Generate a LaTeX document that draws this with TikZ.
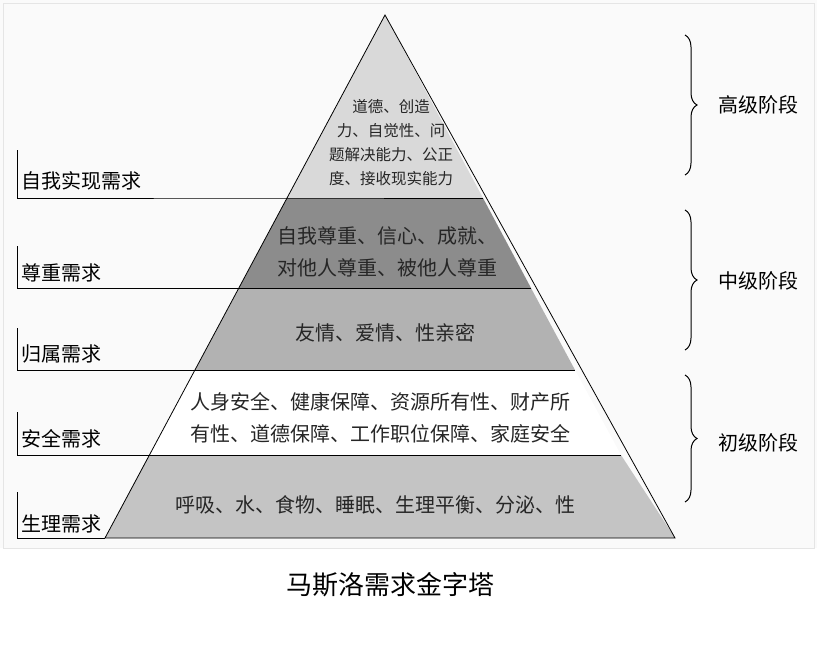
\documentclass[tikz,border=0pt]{standalone}
\usepackage{fontspec}
\newfontfamily\cjk{Noto Sans CJK SC}
\usetikzlibrary{decorations.pathreplacing}
\begin{document}
\begin{tikzpicture}[x=1pt,y=-1pt,font=\cjk,
  layer/.style={draw=black,line width=0.8pt},
  lbl/.style={anchor=south west,font=\cjk\fontsize{20}{24}\selectfont,inner sep=2pt},
  txt/.style={font=\cjk\fontsize{20}{32}\selectfont,align=center,text=black!85},
  lead/.style={draw=black,line width=0.8pt},
  br/.style={decorate,decoration={brace,amplitude=12pt},line width=1pt},
  stage/.style={font=\cjk\fontsize{20}{24}\selectfont}]
\useasboundingbox (0,0) rectangle (817,656);
\fill[white] (0,0) rectangle (817,656);
\fill[black!2] (0,0) rectangle (817,548);
\draw[black!10] (3,3) rectangle (814,548);
% pyramid layers
\coordinate (A) at (385,15);
\fill[black!15] (385,15) -- (287,198) -- (483,198) -- cycle;
\fill[black!45] (287,198) -- (239,288) -- (531,288) -- (483,198) -- cycle;
\fill[black!30] (239,288) -- (195,370) -- (575,370) -- (531,288) -- cycle;
\fill[white] (195,370) -- (149,455) -- (621,455) -- (575,370) -- cycle;
\fill[black!23] (149,455) -- (105,538) -- (675,538) -- (621,455) -- cycle;
\draw[layer] (A) -- (105,538) -- (675,538) -- cycle;
% left leaders
\draw[lead] (17,150) -- (17,198) -- (287,198) -- (483,198);
\draw[lead] (17,246) -- (17,288) -- (531,288);
\draw[lead] (17,328) -- (17,370) -- (575,370);
\draw[lead] (17,412) -- (17,455) -- (621,455);
\draw[lead] (17,492) -- (17,538) -- (105,538);
\node[lbl] (l1) at (19,192) {自我实现需求};
\node[lbl] (l2) at (19,284) {尊重需求};
\node[lbl] (l3) at (19,365) {归属需求};
\node[lbl] (l4) at (19,450) {安全需求};
\node[lbl] (l5) at (19,535) {生理需求};
% inner texts
\node[txt,font=\cjk\fontsize{15.5}{24}\selectfont] (t1) at (391,143) {道德、创造\\力、自觉性、问\\题解决能力、公正\\度、接收现实能力};
\node[txt] (t2) at (387,252) {自我尊重、信心、成就、\\对他人尊重、被他人尊重};
\node[txt] (t3) at (385,333) {友情、爱情、性亲密};
\node[txt] (t4) at (380,418) {人身安全、健康保障、资源所有性、财产所\\有性、道德保障、工作职位保障、家庭安全};
\node[txt] (t5) at (375,505) {呼吸、水、食物、睡眠、生理平衡、分泌、性};
% braces
\draw[br] (685,35) -- (685,175);
\draw[br] (685,210) -- (685,350);
\draw[br] (685,375) -- (685,502);
\node[stage] (s1) at (758,105) {高级阶段};
\node[stage] (s2) at (758,281) {中级阶段};
\node[stage] (s3) at (758,443) {初级阶段};
\node[font=\cjk\fontsize{26}{30}\selectfont] (cap) at (390,585) {马斯洛需求金字塔};
\end{tikzpicture}
\end{document}
